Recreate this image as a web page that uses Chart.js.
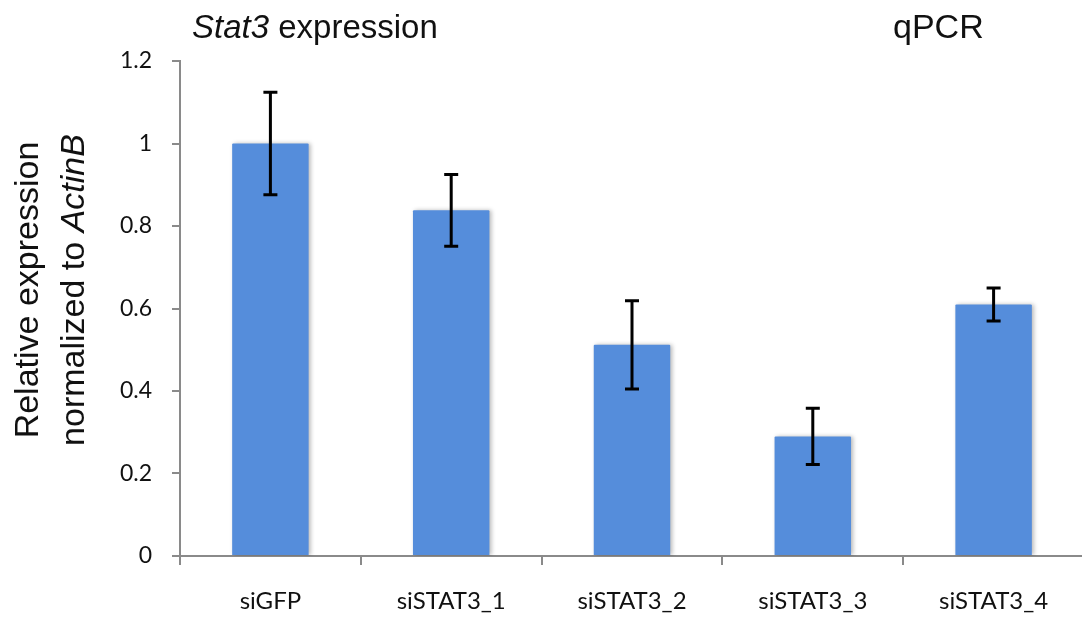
<!DOCTYPE html>
<html>
<head>
<meta charset="utf-8">
<script src="https://cdn.jsdelivr.net/npm/chart.js@4.4.0/dist/chart.umd.min.js"></script>
<style>
  html, body { margin: 0; padding: 0; background: #fff; overflow: hidden; }
  #wrap { position: relative; width: 1090px; height: 619px; }
</style>
</head>
<body>
<div id="wrap"><canvas id="qpcrChart" width="1090" height="619"></canvas></div>
<script>
// data
const groups = ['siGFP', 'siSTAT3_1', 'siSTAT3_2', 'siSTAT3_3', 'siSTAT3_4'];
const meanExpr = [1.0, 0.838, 0.512, 0.29, 0.61];
const errExpr = [0.124, 0.087, 0.107, 0.068, 0.04];
const yTicks = [0, 0.2, 0.4, 0.6, 0.8, 1, 1.2];

const BAR_BLUE = '#558DDB';
const AXIS_GRAY = '#8a8a8a';
const SANS = '"Liberation Sans", Arial, sans-serif';
const TICK_FONT = 'Lato, "Open Sans", sans-serif';

// soft shadow like the office chart
const barShadow = {
    id: 'barShadow',
    beforeDatasetDraw(chart) {
        const ctx = chart.ctx;
        ctx.save();
        ctx.shadowColor = 'rgba(0,0,0,0.28)';
        ctx.shadowBlur = 4;
        ctx.shadowOffsetX = 2;
        ctx.shadowOffsetY = 0;
    },
    afterDatasetDraw(chart) {
        chart.ctx.restore();
    }
};

const errorBars = {
    id: 'errorBars',
    afterDatasetsDraw(chart) {
        const ctx = chart.ctx;
        const x = chart.scales.x, y = chart.scales.y;
        ctx.save();
        ctx.strokeStyle = '#000';
        ctx.lineWidth = 3;
        ctx.lineCap = 'butt';
        meanExpr.forEach((v, i) => {
            const cx = x.getPixelForValue(i);
            const top = y.getPixelForValue(v + errExpr[i]);
            const bot = y.getPixelForValue(v - errExpr[i]);
            ctx.beginPath();
            ctx.moveTo(cx, top); ctx.lineTo(cx, bot);
            ctx.moveTo(cx - 7, top); ctx.lineTo(cx + 7, top);
            ctx.moveTo(cx - 7, bot); ctx.lineTo(cx + 7, bot);
            ctx.stroke();
        });
        ctx.restore();
    }
};

// titles with mixed italic runs
function drawRuns(ctx, runs, x, y, size) {
    let cx = x;
    runs.forEach(([txt, italic]) => {
        ctx.font = `${italic ? 'italic ' : ''}${size}px ${SANS}`;
        ctx.fillText(txt, cx, y);
        cx += ctx.measureText(txt).width;
    });
    return cx - x;
}
function runsWidth(ctx, runs, size) {
    let w = 0;
    runs.forEach(([txt, italic]) => {
        ctx.font = `${italic ? 'italic ' : ''}${size}px ${SANS}`;
        w += ctx.measureText(txt).width;
    });
    return w;
}

const titles = {
    id: 'titles',
    afterDraw(chart) {
        const ctx = chart.ctx;
        ctx.save();
        ctx.fillStyle = '#111';
        ctx.textBaseline = 'alphabetic';
        ctx.textAlign = 'left';
        drawRuns(ctx, [['Stat3', true], [' expression', false]], 192, 38, 33);
        drawRuns(ctx, [['qPCR', false]], 893, 38, 34);

        // rotated y title, two lines
        const l1 = [['Relative expression', false]];
        const l2 = [['normalized to ', false], ['ActinB', true]];
        ctx.translate(0, 290);
        ctx.rotate(-Math.PI / 2);
        drawRuns(ctx, l1, -runsWidth(ctx, l1, 34) / 2, 38, 34);
        drawRuns(ctx, l2, -runsWidth(ctx, l2, 34) / 2, 84, 34);
        ctx.restore();
    }
};

new Chart(document.getElementById('qpcrChart'), {
    type: 'bar',
    data: {
        labels: groups,
        datasets: [{
            data: meanExpr,
            backgroundColor: BAR_BLUE,
            borderWidth: 0,
            borderRadius: 1,
            categoryPercentage: 1,
            barPercentage: 0.423
        }]
    },
    options: {
        responsive: false,
        animation: false,
        devicePixelRatio: 1,
        layout: { padding: { top: 61, right: 6, left: 0, bottom: 0 } },
        plugins: { legend: { display: false }, tooltip: { enabled: false }, title: { display: false } },
        scales: {
            y: {
                min: 0, max: 1.2,
                afterBuildTicks: s => { s.ticks = yTicks.map(v => ({ value: v })); },
                afterFit: s => { s.width = 180; },
                border: { display: true, color: AXIS_GRAY, width: 2 },
                grid: { display: true, drawOnChartArea: false, drawTicks: true, tickLength: 8, color: AXIS_GRAY, lineWidth: 2 },
                ticks: {
                    padding: 20,
                    color: '#111',
                    font: { family: TICK_FONT, size: 23 },
                    callback: v => String(Math.round(v * 10) / 10)
                }
            },
            x: {
                offset: true,
                afterFit: s => { s.height = 63; },
                border: { display: true, color: AXIS_GRAY, width: 2 },
                grid: { display: true, offset: true, drawOnChartArea: false, drawTicks: true, tickLength: 9, color: AXIS_GRAY, lineWidth: 2 },
                ticks: {
                    padding: 22,
                    color: '#111',
                    maxRotation: 0,
                    font: { family: TICK_FONT, size: 24 }
                }
            }
        }
    },
    plugins: [barShadow, errorBars, titles]
});
</script>
</body>
</html>
